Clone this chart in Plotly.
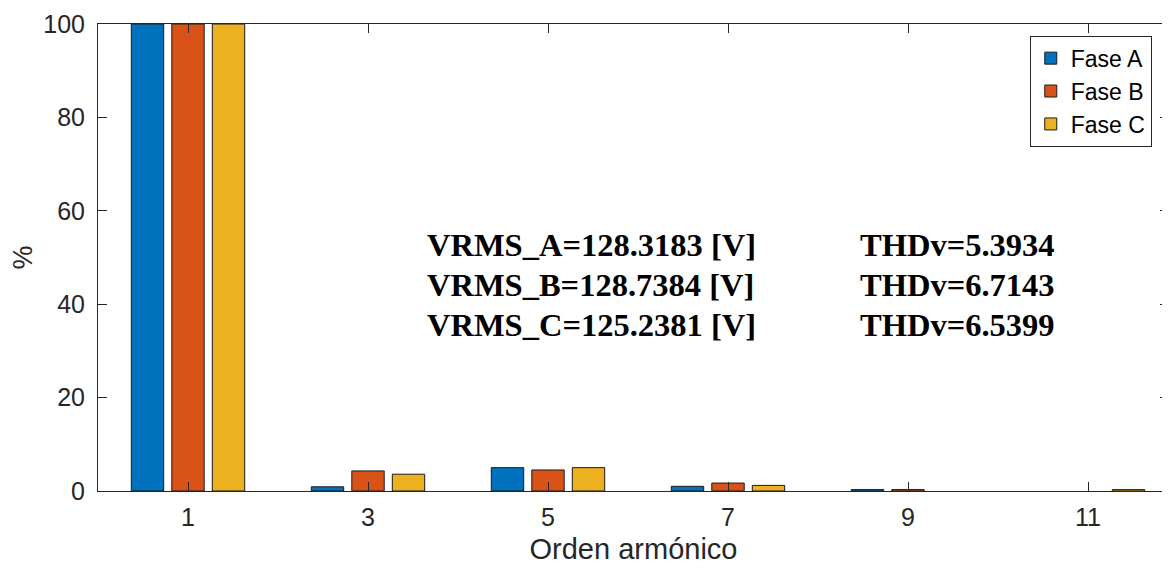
import plotly.graph_objects as go

orders = [1, 3, 5, 7, 9, 11]
fase_a = [100, 0.9, 5.0, 1.0, 0.3, None]
fase_b = [100, 4.3, 4.5, 1.7, 0.3, None]
fase_c = [100, 3.6, 5.0, 1.2, None, 0.3]
series_names = ["Fase A", "Fase B", "Fase C"]
colors = ["#0072BD", "#D95319", "#EDB120"]
vrms_labels = ["VRMS_A=128.3183 [V]", "VRMS_B=128.7384 [V]", "VRMS_C=125.2381 [V]"]
thd_labels = ["THDv=5.3934", "THDv=6.7143", "THDv=6.5399"]
text_rows_y = [52.7, 44.1, 35.5]

fig = go.Figure()
for name, vals, col in zip(series_names, [fase_a, fase_b, fase_c], colors):
    fig.add_trace(go.Bar(x=orders, y=vals, name=name, marker=dict(color=col, line=dict(color="#1a1a1a", width=1))))

for lbl, thd, yy in zip(vrms_labels, thd_labels, text_rows_y):
    fig.add_annotation(x=3.63, y=yy, text=lbl, showarrow=False, xanchor="left", yanchor="middle",
                       font=dict(family="Liberation Serif", size=32.5, color="black", weight="bold"))
    fig.add_annotation(x=8.44, y=yy, text=thd, showarrow=False, xanchor="left", yanchor="middle",
                       font=dict(family="Liberation Serif", size=32.5, color="black", weight="bold"))

axis_common = dict(showline=True, linecolor="#262626", linewidth=1, mirror="allticks", ticks="inside",
                   ticklen=9, tickcolor="#262626", showgrid=False, zeroline=False, automargin=False,
                   ticklabeloverflow="allow",
                   tickfont=dict(family="Liberation Sans", size=25, color="#262626"))

fig.update_layout(
    width=1162, height=567,
    margin=dict(l=90, r=1, t=16, b=84),
    plot_bgcolor="white", paper_bgcolor="white",
    barmode="group", bargap=0.325, bargroupgap=0.2,
    showlegend=True,
    legend=dict(x=0.87, y=0.975, xanchor="left", yanchor="top", bgcolor="white",
                bordercolor="#262626", borderwidth=1, itemwidth=30,
                font=dict(family="Liberation Sans", size=23, color="black"), tracegroupgap=0),
    xaxis=dict(range=[0, 11.9], tickvals=orders, ticktext=[str(o) for o in orders], ticklabelstandoff=4,
               title=dict(text="Orden armónico", font=dict(family="Liberation Sans", size=29, color="#262626"), standoff=8),
               **axis_common),
    yaxis=dict(range=[0, 100], tickvals=[0, 20, 40, 60, 80, 100], ticklabelstandoff=7,
               title=dict(text="%", font=dict(family="Liberation Sans", size=27, color="#262626"), standoff=22),
               **axis_common),
)
fig.write_html("out.html")
